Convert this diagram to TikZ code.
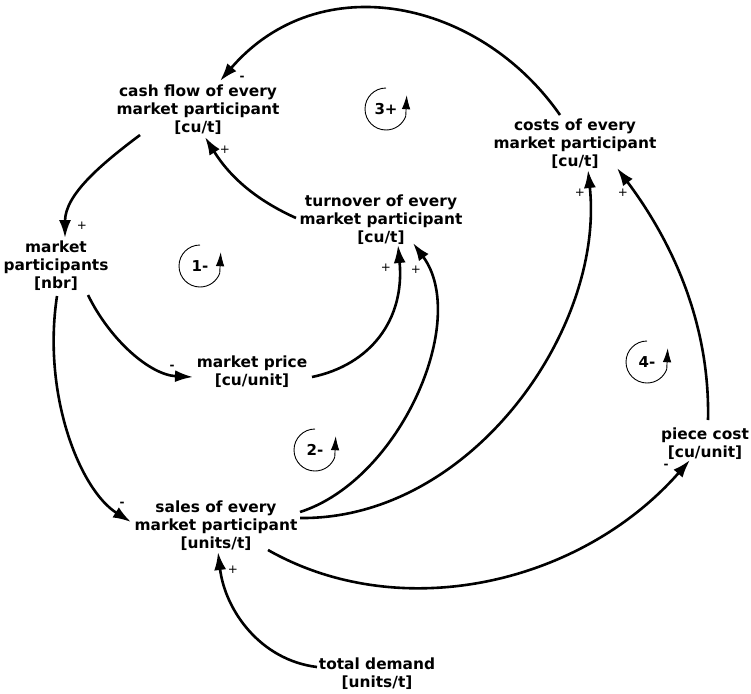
\documentclass[tikz,border=0pt]{standalone}
\usepackage{fontspec}
\usetikzlibrary{arrows.meta}
\newfontfamily\dvs{DejaVu Sans}
\newcommand\varfont{\dvs\bfseries\fontsize{15.4}{18}\selectfont}
\newcommand\sgnfont{\dvs\fontsize{12}{12}\selectfont}
\newcommand\lpfont{\dvs\bfseries\fontsize{15}{15}\selectfont}
\tikzset{
  var/.style={font=\varfont, align=center, inner sep=0pt},
  link/.style={line width=2.6pt, -{Latex[length=18pt,width=12pt]}},
  sgn/.style={font=\sgnfont, inner sep=0pt},
  neg/.style={font=\sgnfont\bfseries, inner sep=0pt},
  lplbl/.style={font=\lpfont, inner sep=0pt},
  lparrow/.style={line width=0.9pt, -{Latex[length=14pt,width=8.5pt]}},
}
\begin{document}
\begin{tikzpicture}[x=1pt,y=1pt]
\useasboundingbox (0,0) rectangle (751,-693);
% variables
\node[var] (cash)   at (198,-110) {cash flow of every\\market participant\\{[cu/t]}};
\node[var] (costs)  at (575,-144) {costs of every\\market participant\\{[cu/t]}};
\node[var] (turn)   at (381,-220) {turnover of every\\market participant\\{[cu/t]}};
\node[var] (mp)     at (56,-266)  {market\\participants\\{[nbr]}};
\node[var] (price)  at (252,-372) {market price\\{[cu/unit]}};
\node[var] (sales)  at (216,-526) {sales of every\\market participant\\{[units/t]}};
\node[var] (piece)  at (705,-444) {piece cost\\{[cu/unit]}};
\node[var] (demand) at (377,-674) {total demand\\{[units/t]}};
% links
\draw[link] ([shift={(-15,29)}]costs.center) .. controls (480,0) and (320,35) .. ([shift={(22,29)}]cash.center);
\draw[link] ([shift={(-85,2)}]turn.center) .. controls (256,-200) and (230,-177) .. ([shift={(7,-27)}]cash.center);
\draw[link] ([shift={(-58,-25)}]cash.center) .. controls (100,-165) and (65,-195) .. ([shift={(9,28)}]mp.center);
\draw[link] ([shift={(32,-29)}]mp.center) .. controls (110,-340) and (150,-375) .. ([shift={(-59,-5)}]price.center);
\draw[link] ([shift={(1,-30)}]mp.center) .. controls (42,-395) and (80,-490) .. ([shift={(-85,4)}]sales.center);
\draw[link] ([shift={(60,-5)}]price.center) .. controls (370,-365) and (405,-320) .. ([shift={(17,-25)}]turn.center);
\draw[link] ([shift={(84,14)}]sales.center) .. controls (400,-480) and (470,-320) .. ([shift={(32,-23)}]turn.center);
\draw[link] ([shift={(84,8)}]sales.center) .. controls (470,-520) and (605,-330) .. ([shift={(13,-26)}]costs.center);
\draw[link] ([shift={(-60,7)}]demand.center) .. controls (260,-660) and (225,-610) .. ([shift={(2,-26)}]sales.center);
\draw[link] ([shift={(52,-24)}]sales.center) .. controls (400,-625) and (580,-585) .. ([shift={(-15,-16)}]piece.center);
\draw[link] ([shift={(3,24)}]piece.center) .. controls (710,-330) and (677,-248) .. ([shift={(42,-24)}]costs.center);
% polarities
\node[neg] (s1)  at (242,-78)  {-};
\node[sgn] (s2)  at (225,-150) {+};
\node[sgn] (s3)  at (82,-226)  {+};
\node[neg] (s4)  at (172,-367) {-};
\node[neg] (s5)  at (122,-504) {-};
\node[sgn] (s6)  at (386,-268) {+};
\node[sgn] (s7)  at (416,-270) {+};
\node[sgn] (s8)  at (580,-193) {+};
\node[sgn] (s9)  at (623,-193) {+};
\node[sgn] (s10) at (233,-570) {+};
\node[neg] (s11) at (666,-466) {-};
% loop markers
\node[lplbl] (L1) at (200,-266) {1-};
\node[lplbl] (L2) at (315,-450) {2-};
\node[lplbl] (L3) at (386,-109) {3+};
\node[lplbl] (L4) at (647,-362) {4-};
\foreach \L in {L1,L2,L3,L4}
  \draw[lparrow] ([shift={(0,21)}]\L.center) arc[start angle=90,end angle=340,radius=21pt] -- ++(1,21);
\end{tikzpicture}
\end{document}
